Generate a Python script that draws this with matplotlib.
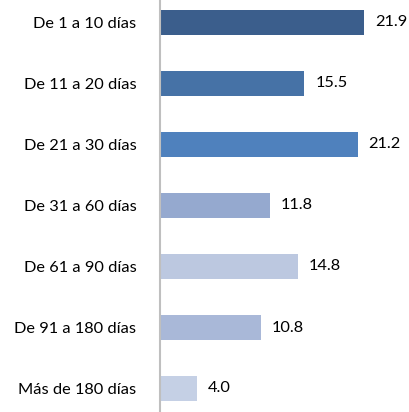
import matplotlib
matplotlib.use("Agg")
import matplotlib.pyplot as plt

categories = ["De 1 a 10 días", "De 11 a 20 días", "De 21 a 30 días", "De 31 a 60 días",
              "De 61 a 90 días", "De 91 a 180 días", "Más de 180 días"]
values = [21.9, 15.5, 21.2, 11.8, 14.8, 10.8, 4.0]
colors = ["#3B5E8C", "#4672A6", "#4F81BD", "#95A9CF", "#BCC8E0", "#A9B8D8", "#C5D0E5"]

plt.rcParams['font.family'] = ['Lato', 'DejaVu Sans']

W, H = 409, 412
fig = plt.figure(figsize=(W/100, H/100), dpi=100)
ax = fig.add_axes([160/W, 0, (W-160)/W, 1])

pos = list(range(len(categories)))
ax.barh(pos, values, height=25/61, color=colors, zorder=2)
ax.set_ylim((412-22.5)/61, -22.5/61)
ax.set_xlim(0, 249/9.32)

for p, v in zip(pos, values):
    ax.text(v + 11/9.32, p, f"{v:.1f}", va='center', ha='left', fontsize=11.8, color='#000000')

ax.set_yticks(pos)
ax.set_yticklabels(categories, fontsize=11.8)
ax.tick_params(axis='y', length=0, pad=17)
ax.set_xticks([])
for s in ['top', 'right', 'bottom']:
    ax.spines[s].set_visible(False)
ax.spines['left'].set_color('#BFBFBF')
ax.spines['left'].set_linewidth(1.5)

fig.savefig("out.png", dpi=100)
